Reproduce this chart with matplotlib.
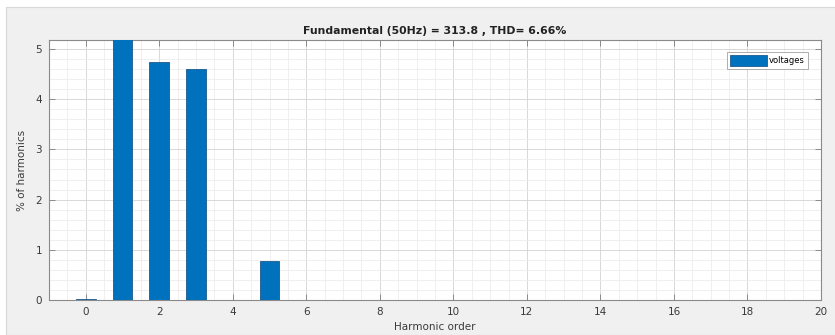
import matplotlib
matplotlib.use("Agg")
import matplotlib.pyplot as plt
from matplotlib.patches import Rectangle
from matplotlib.ticker import MultipleLocator

# Harmonic spectrum (% of fundamental)
orders = list(range(0, 21))
harmonics = [0.02, 100.0, 4.75, 4.6, 0.0, 0.78] + [0.0] * 15
title_text = "Fundamental (50Hz) = 313.8 , THD= 6.66%"
series_name = "voltages"

bar_color = "#0072BD"
edge_color = "#1a5a8c"
axis_gray = "#8a8a8a"
text_gray = "#3a3a3a"

fig = plt.figure(figsize=(8.35, 3.35), dpi=100)
fig.patch.set_facecolor("white")
fig.patches.append(Rectangle((6 / 835, 0), 1, 1 - 7 / 335, transform=fig.transFigure,
                             facecolor="#f0f0f0", edgecolor="#d8d8d8", linewidth=0.8,
                             zorder=-10))

ax = fig.add_axes([49 / 835, 35 / 335, (821 - 49) / 835, (300 - 40) / 335])
ax.set_facecolor("white")

ax.bar(orders, harmonics, width=0.54, color=bar_color, edgecolor=edge_color,
       linewidth=0.6, label=series_name, zorder=3)

ax.set_xlim(-1, 20)
ax.set_ylim(0, 5.18)
ax.xaxis.set_major_locator(MultipleLocator(2))
ax.xaxis.set_minor_locator(MultipleLocator(0.5))
ax.yaxis.set_major_locator(MultipleLocator(1))
ax.yaxis.set_minor_locator(MultipleLocator(0.2))

ax.grid(which="major", color="#d8d8d8", linewidth=0.7, zorder=0)
ax.grid(which="minor", color="#ececec", linewidth=0.6, zorder=0)
ax.set_axisbelow(True)

for s in ax.spines.values():
    s.set_color(axis_gray)
    s.set_linewidth(0.8)

ax.tick_params(which="major", direction="in", length=4, width=0.7, color=axis_gray,
               labelsize=7.5, labelcolor=text_gray, top=True, right=True, pad=5)
ax.tick_params(which="minor", length=0, top=True, right=True)

ax.set_xlabel("Harmonic order", fontsize=7.5, color=text_gray, labelpad=4)
ax.set_ylabel("% of harmonics", fontsize=7.5, color=text_gray, labelpad=6)
ax.set_title(title_text, fontsize=7.8, fontweight="bold", color="#222222", pad=4)

leg = ax.legend(loc="upper right", fontsize=6, handlelength=4.4, handleheight=1.6,
                borderpad=0.35, handletextpad=0.25, fancybox=False, framealpha=1,
                bbox_to_anchor=(0.988, 0.97))
leg.get_frame().set_edgecolor("#a0a0a0")
leg.get_frame().set_linewidth(0.6)

fig.savefig("out.png", dpi=100, facecolor=fig.get_facecolor())
